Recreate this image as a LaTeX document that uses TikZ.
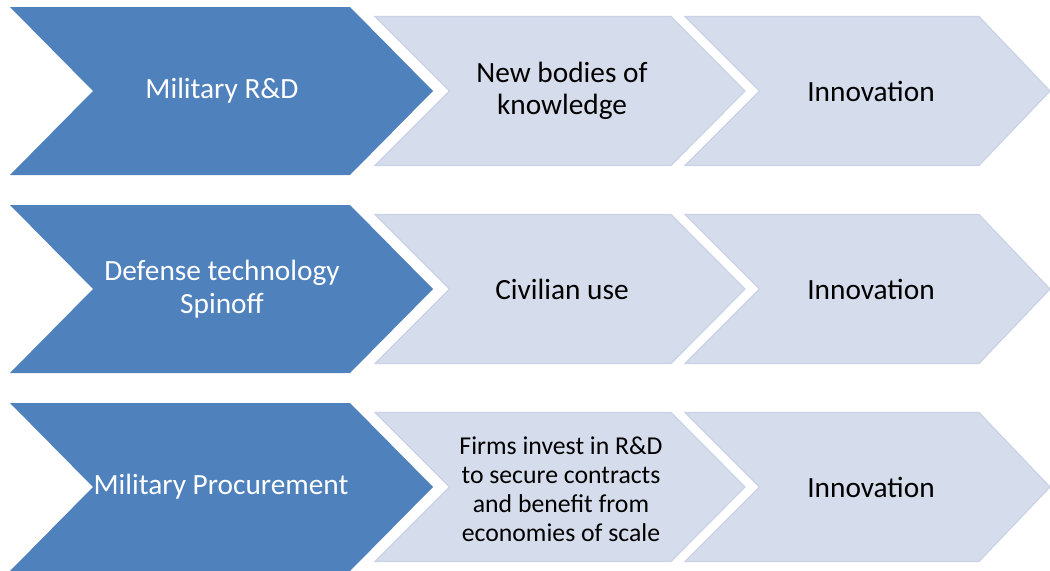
\documentclass[tikz,border=0pt]{standalone}
\usepackage{fontspec}
\setmainfont{Carlito}
\definecolor{darkblue}{HTML}{4F81BD}
\definecolor{lightblue}{HTML}{D5DCEB}
\definecolor{lightedge}{HTML}{CAD3E6}
\tikzset{
  bigchev/.style={fill=darkblue, draw=none},
  smallchev/.style={fill=lightblue, draw=lightedge, line width=0.9pt, line join=miter},
  bigtext/.style={text=white, align=center, font=\fontsize{22}{24.5}\selectfont, inner sep=0pt},
  smalltext/.style={text=black, align=center, font=\fontsize{22}{24.5}\selectfont, inner sep=0pt},
  tinytext/.style={text=black, align=center, font=\fontsize{19.3}{21.8}\selectfont, inner sep=0pt}
}
\begin{document}
\begin{tikzpicture}[x=0.75pt, y=-0.75pt]
\useasboundingbox (0,0) rectangle (1050,571);
\foreach \m in {91,289,487} {
  \path[bigchev] (10,\m-84) -- (350,\m-84) -- (433,\m) -- (350,\m+84) -- (10,\m+84) -- (93,\m) -- cycle;
  \path[smallchev] (375,\m-74.5) -- (671,\m-74.5) -- (745,\m) -- (671,\m+74.5) -- (375,\m+74.5) -- (449.5,\m) -- cycle;
  \path[smallchev] (685,\m-74.5) -- (979,\m-74.5) -- (1050,\m) -- (979,\m+74.5) -- (685,\m+74.5) -- (759.5,\m) -- cycle;
}
\node[bigtext] (a1) at (222,91) {Military R\&D};
\node[smalltext] (b1) at (562,91) {New bodies of\\knowledge};
\node[smalltext] (c1) at (871,91) {Innovation};
\node[bigtext] (a2) at (222,289) {Defense technology\\Spinoff};
\node[smalltext] (b2) at (562,289) {Civilian use};
\node[smalltext] (c2) at (871,289) {Innovation};
\node[bigtext] (a3) at (221,487) {Military Procurement};
\node[tinytext] (b3) at (561,489) {Firms invest in R\&D\\to secure contracts\\and benefit from\\economies of scale};
\node[smalltext] (c3) at (871,487) {Innovation};
\end{tikzpicture}
\end{document}
